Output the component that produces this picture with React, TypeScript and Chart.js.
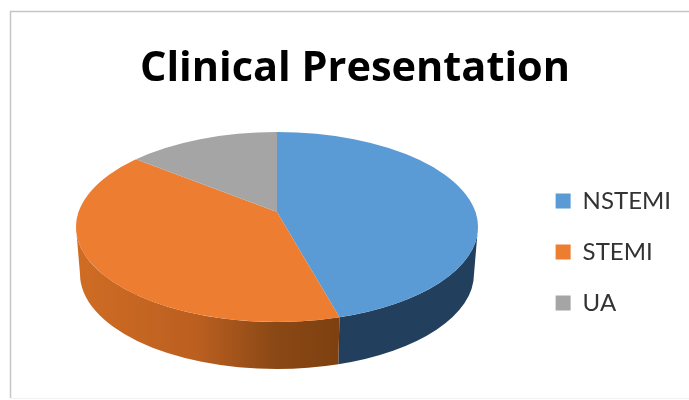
import React, { useEffect, useRef } from "react";
import { Chart, registerables } from "chart.js";

Chart.register(...registerables);

const categories = ["NSTEMI", "STEMI", "UA"];
const shares = [45, 42, 13];
const topColors = ["#5B9BD5", "#ED7D31", "#A5A5A5"];
const titleText = "Clinical Presentation";

// Projection of the tilted pie on the canvas
const CX = 277, CY = 227, RX = 201, RY = 95;   // rim of the top face
const APEX_Y = 212;                            // perspective moves the apex up
const BX = 197, BY = 274, BRY = 95;            // rim of the base
const OVER = 1.1;
const UP = 80 * OVER, DOWN = 110 * OVER, WIDE = RX * OVER;

function rimParam(angle: number) {
  const s = Math.sin(angle), c = Math.cos(angle);
  const dx = c * WIDE, dy = s * (s < 0 ? UP : DOWN);
  const ox = 0, oy = (APEX_Y - CY) / RY;
  const ux = dx / RX, uy = dy / RY;
  const a = ux * ux + uy * uy;
  const b = 2 * (ox * ux + oy * uy);
  const k = ox * ox + oy * oy - 1;
  const t = (-b + Math.sqrt(b * b - 4 * a * k)) / (2 * a);
  return Math.atan2(oy + uy * t, ox + ux * t);
}

function wallFill(ctx: CanvasRenderingContext2D, index: number) {
  if (index === 0) return "#223F5E";
  if (index === 2) return "#5f5f5f";
  const g = ctx.createLinearGradient(80, 0, 340, 0);
  g.addColorStop(0, "#CF6C24");
  g.addColorStop(0.45, "#BB5F20");
  g.addColorStop(0.75, "#8A4815");
  g.addColorStop(1, "#7E4010");
  return g;
}

function applyFace(ctx: CanvasRenderingContext2D, arc: any, upper: boolean) {
  const R = arc.outerRadius;
  ctx.beginPath();
  ctx.ellipse(CX, CY, RX, RY, 0, 0, Math.PI * 2);
  ctx.clip();
  ctx.beginPath();
  if (upper) ctx.rect(0, 0, 689, APEX_Y + 0.5);
  else ctx.rect(0, APEX_Y - 0.5, 689, 400);
  ctx.clip();
  ctx.translate(CX, APEX_Y);
  ctx.scale(WIDE / R, (upper ? UP : DOWN) / R);
  ctx.translate(-arc.x, -arc.y);
}

const tiltPlugin = {
  id: "tilt",
  beforeDraw(chart: any) {
    const { ctx } = chart;
    ctx.save();
    ctx.strokeStyle = "#C6C6C6";
    ctx.lineWidth = 1.5;
    ctx.beginPath();
    ctx.moveTo(689, 11.5);
    ctx.lineTo(10.5, 11.5);
    ctx.lineTo(10.5, 398);
    ctx.stroke();
    ctx.strokeStyle = "#F1F1F1";
    ctx.lineWidth = 1;
    ctx.beginPath();
    ctx.moveTo(10.5, 398.5);
    ctx.lineTo(689, 398.5);
    ctx.stroke();
    ctx.restore();
  },
  beforeDatasetsDraw(chart: any) {
    const { ctx } = chart;
    const arcs = chart.getDatasetMeta(0).data;
    arcs.forEach((arc: any, i: number) => {
      let a0 = rimParam(arc.startAngle);
      let a1 = rimParam(arc.endAngle);
      if (a1 < a0) a1 += Math.PI * 2;
      const lo = Math.max(a0, 0), hi = Math.min(a1, Math.PI);
      if (hi <= lo) return;
      ctx.save();
      ctx.beginPath();
      ctx.ellipse(CX, CY, RX, RY, 0, lo, hi);
      ctx.ellipse(CX, BY, BX, BRY, 0, hi, lo, true);
      ctx.closePath();
      ctx.fillStyle = wallFill(ctx, i);
      ctx.fill();
      ctx.restore();
    });
    ctx.save();
    applyFace(ctx, arcs[0], false);
  },
  afterDatasetsDraw(chart: any) {
    const { ctx } = chart;
    ctx.restore();
    const arcs = chart.getDatasetMeta(0).data;
    ctx.save();
    applyFace(ctx, arcs[0], true);
    arcs.forEach((arc: any) => arc.draw(ctx));
    ctx.restore();
  },
};

export default function App() {
  const ref = useRef<HTMLCanvasElement>(null);
  useEffect(() => {
    const chart = new Chart(ref.current as HTMLCanvasElement, {
      type: "pie",
      data: {
        labels: categories,
        datasets: [
          { data: shares, backgroundColor: topColors, borderWidth: 0, clip: false } as any,
        ],
      },
      options: {
        animation: false,
        responsive: false,
        events: [],
        layout: { padding: { left: 29, right: 8 } },
        plugins: {
          title: {
            display: true,
            text: titleText,
            color: "#000000",
            font: { family: "Open Sans", size: 41.5, weight: "bold" },
            padding: { top: 44, bottom: 10 },
          },
          legend: {
            position: "right",
            fullSize: false,
            labels: {
              boxWidth: 15,
              boxHeight: 15,
              padding: 27,
              color: "#333333",
              font: { family: "Lato", size: 24 },
            },
          },
          tooltip: { enabled: false },
        },
      },
      plugins: [tiltPlugin],
    });
    return () => chart.destroy();
  }, []);
  return (
    <div style={{ position: "absolute", left: 0, top: 0, width: 689, height: 400, background: "#fff", overflow: "hidden" }}>
      <canvas ref={ref} width={689} height={400} style={{ display: "block", filter: "blur(0.6px)" }} />
    </div>
  );
}
